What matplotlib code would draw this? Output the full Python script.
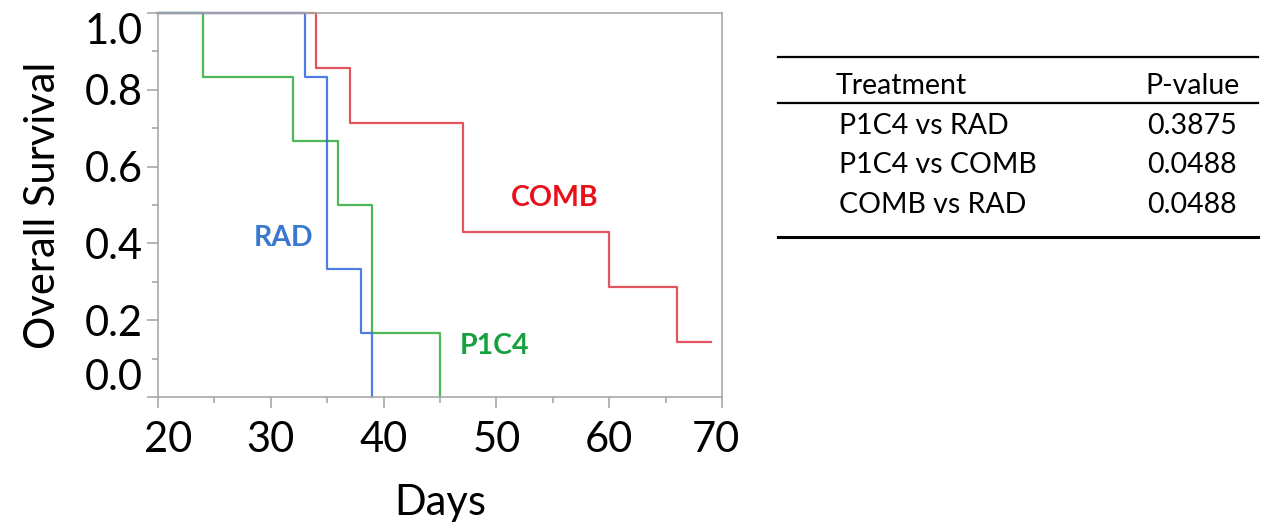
import numpy as np
import matplotlib.pyplot as plt
import matplotlib.transforms as mtransforms
from matplotlib.lines import Line2D

plt.rcParams['font.family'] = ['Lato', 'DejaVu Sans']

# survival curves (step times in days, survival fraction after each step)
p1c4_days = [20, 24, 32, 36, 39, 45]
p1c4_surv = [1.0, 0.833, 0.667, 0.5, 0.167, 0.0]
rad_days = [20, 33, 35, 38, 39]
rad_surv = [1.0, 0.833, 0.333, 0.167, 0.0]
comb_days = [20, 34, 37, 47, 60, 66, 69]
comb_surv = [1.0, 0.857, 0.714, 0.429, 0.286, 0.143, 0.143]

# p-value table
comparisons = ['P1C4 vs RAD', 'P1C4 vs COMB', 'COMB vs RAD']
p_values = ['0.3875', '0.0488', '0.0488']

W, H = 1262, 527
fig = plt.figure(figsize=(W / 100, H / 100), dpi=100)
ax = fig.add_axes([158 / W, 1 - 397 / H, 564 / W, 384 / H])

ax.step(comb_days, comb_surv, where='post', color='#e0424c', lw=1.6, alpha=0.9, clip_on=False)
ax.step(p1c4_days, p1c4_surv, where='post', color='#3cb043', lw=1.6, alpha=0.9, clip_on=False)
ax.step(rad_days, rad_surv, where='post', color='#3b6fe0', lw=1.6, alpha=0.9, clip_on=False)

ax.text(55.2, 0.518, 'COMB', color='#e8101a', fontsize=20.5, fontweight='bold', ha='center', va='center')
ax.text(31.1, 0.414, 'RAD', color='#3a78d0', fontsize=20.5, fontweight='bold', ha='center', va='center')
ax.text(49.8, 0.133, 'P1C4', color='#17a040', fontsize=20.5, fontweight='bold', ha='center', va='center')

ax.set_xlim(20, 70)
ax.set_ylim(0, 1)
ax.set_xticks(np.arange(20, 71, 10))
ax.set_xticks(np.arange(25, 70, 10), minor=True)
ax.set_yticks(np.arange(0, 1.01, 0.2))
ax.set_yticklabels(['%.1f' % v for v in np.arange(0, 1.01, 0.2)])
ax.set_yticks(np.arange(0.1, 1.0, 0.2), minor=True)

for s in ax.spines.values():
    s.set_color('#a8a8a8')
    s.set_linewidth(1.2)
ax.tick_params(which='major', length=8, width=1.2, color='#a8a8a8', labelsize=30, pad=3)
ax.tick_params(axis='x', which='major', pad=9)
ax.tick_params(which='minor', length=4, width=1.2, color='#a8a8a8')

ax.set_xlabel('Days', fontsize=30, labelpad=18)
ax.set_ylabel('Overall Survival', fontsize=30, labelpad=16)

# end labels pushed inside the axis range, as in the original
ylabs = ax.get_yticklabels()
ylabs[0].set_va('bottom')
ylabs[-1].set_va('top')
xlabs = ax.get_xticklabels()
xlabs[0].set_transform(xlabs[0].get_transform() + mtransforms.ScaledTranslation(0.1, 0, fig.dpi_scale_trans))
xlabs[-1].set_transform(xlabs[-1].get_transform() + mtransforms.ScaledTranslation(-0.06, 0, fig.dpi_scale_trans))

# table on the right
def fx(px):
    return px / W

def fy(py):
    return 1 - py / H

for yy, lw in [(57, 1.6), (103, 1.6), (237, 2.2)]:
    fig.add_artist(Line2D([fx(778), fx(1258)], [fy(yy), fy(yy)], color='black', lw=lw))

fig.text(fx(836), fy(86), 'Treatment', fontsize=20.5, ha='left', va='center')
fig.text(fx(1240), fy(86), 'P-value', fontsize=20.5, ha='right', va='center')
for i, (c, p) in enumerate(zip(comparisons, p_values)):
    y = 126 + i * 39.5
    fig.text(fx(839), fy(y), c, fontsize=20.5, ha='left', va='center')
    fig.text(fx(1237), fy(y), p, fontsize=20.5, ha='right', va='center')

fig.savefig('out.png', dpi=100)
